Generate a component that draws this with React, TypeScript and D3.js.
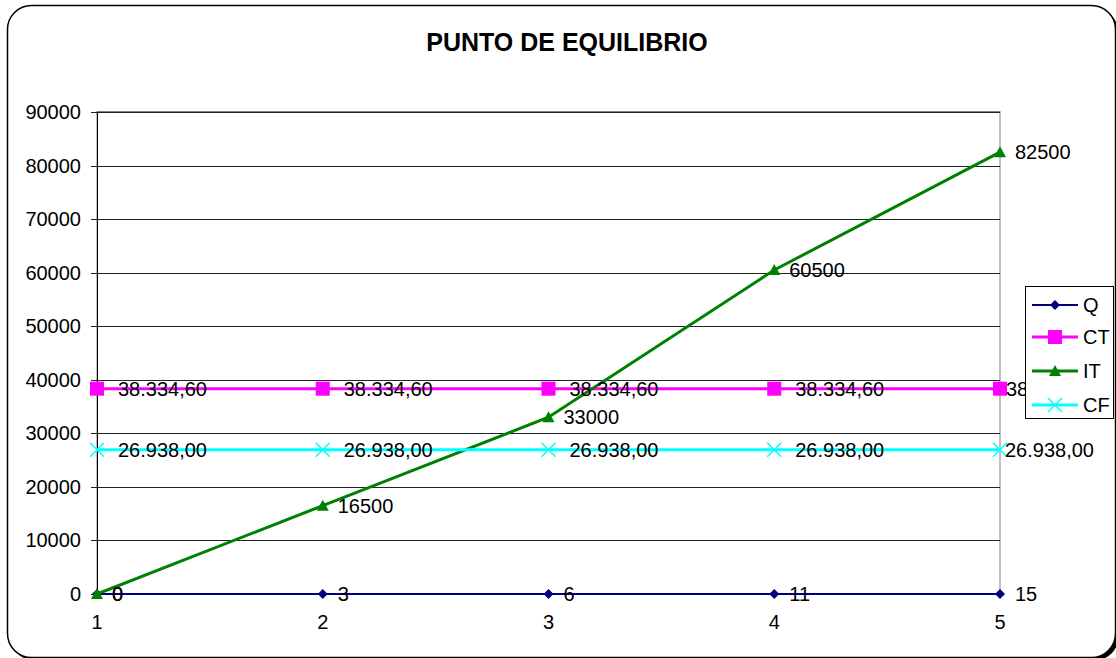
import React from "react";
import * as d3 from "d3";

const categories = ["1", "2", "3", "4", "5"];
const qValues = [0, 3, 6, 11, 15];
const ctValues = [38334.6, 38334.6, 38334.6, 38334.6, 38334.6];
const itValues = [0, 16500, 33000, 60500, 82500];
const cfValues = [26938, 26938, 26938, 26938, 26938];
const qLabels = ["0", "3", "6", "11", "15"];
const ctLabels = ["38.334,60", "38.334,60", "38.334,60", "38.334,60", "38.334,60"];
const itLabels = ["0", "16500", "33000", "60500", "82500"];
const cfLabels = ["26.938,00", "26.938,00", "26.938,00", "26.938,00", "26.938,00"];
const yTicks = [0, 10000, 20000, 30000, 40000, 50000, 60000, 70000, 80000, 90000];
const title = "PUNTO DE EQUILIBRIO";

type Series = {
  name: string;
  values: number[];
  labels: string[];
  color: string;
  width: number;
  marker: "diamond" | "square" | "triangle" | "x";
  offset: number;
  lastOffset: number;
};

const series: Series[] = [
  { name: "Q", values: qValues, labels: qLabels, color: "#000080", width: 2, marker: "diamond", offset: 15, lastOffset: 15 },
  { name: "CT", values: ctValues, labels: ctLabels, color: "#FF00FF", width: 3, marker: "square", offset: 21, lastOffset: 6 },
  { name: "IT", values: itValues, labels: itLabels, color: "#008000", width: 3, marker: "triangle", offset: 15, lastOffset: 15 },
  { name: "CF", values: cfValues, labels: cfLabels, color: "#00FFFF", width: 3, marker: "x", offset: 21, lastOffset: 5 },
];

const FONT = "Arial, 'Liberation Sans', sans-serif";
const FS = 20;

function Marker({ type, x, y, color }: { type: string; x: number; y: number; color: string }) {
  if (type === "diamond") {
    const s = 5;
    return <path d={`M${x},${y - s}L${x + s},${y}L${x},${y + s}L${x - s},${y}Z`} fill={color} />;
  }
  if (type === "square") {
    const s = 7;
    return <rect x={x - s} y={y - s} width={2 * s} height={2 * s} fill={color} />;
  }
  if (type === "triangle") {
    const s = 6;
    return <path d={`M${x},${y - s}L${x + s},${y + s - 1}L${x - s},${y + s - 1}Z`} fill={color} />;
  }
  const s = 7;
  return (
    <path d={`M${x - s},${y - s}L${x + s},${y + s}M${x - s},${y + s}L${x + s},${y - s}`} stroke={color} strokeWidth={1.5} fill="none" />
  );
}

export default function App() {
  const W = 1116;
  const H = 658;
  const left = 97;
  const right = 1000;
  const top = 112;
  const bottom = 594;

  const x = d3.scalePoint<string>().domain(categories).range([left, right]);
  const y = d3.scaleLinear().domain([0, 90000]).range([bottom, top]);

  const line = d3
    .line<number>()
    .x((_, i) => x(categories[i]) as number)
    .y((d) => y(d));

  return (
    <div style={{ position: "absolute", left: 0, top: 0 }}>
      <svg width={W} height={H} style={{ display: "block" }}>
        <defs>
          <clipPath id="legendClip">
            <rect x={0} y={0} width={1025} height={H} />
          </clipPath>
        </defs>
        <rect x={0} y={0} width={W} height={H} fill="#fff" />
        {/* chart area with shadow */}
        <rect x={10.5} y={8.5} width={1108} height={652} rx={24} fill="#000" />
        <rect x={7.5} y={5.5} width={1108} height={652} rx={24} fill="#fff" stroke="#000" strokeWidth={1.5} />

        <text x={567} y={51} textAnchor="middle" fontFamily={FONT} fontWeight="bold" fontSize={25} fill="#000">
          {title}
        </text>

        {/* plot area */}
        <rect x={left} y={top - 0.5} width={right - left} height={bottom - top + 0.5} fill="none" stroke="#808080" strokeWidth={1} />
        {yTicks.map((t) => (
          <g key={t}>
            <line x1={left - 6} x2={right} y1={Math.round(y(t)) + 0.5} y2={Math.round(y(t)) + 0.5} stroke="#222" strokeWidth={1} />
            <text x={81} y={y(t)} dy="0.35em" textAnchor="end" fontFamily={FONT} fontSize={FS} fill="#000">
              {t}
            </text>
          </g>
        ))}
        <line x1={left + 0.5} x2={left + 0.5} y1={top} y2={bottom + 5} stroke="#000" strokeWidth={1} />
        {categories.map((c) => (
          <text key={c} x={x(c)} y={622} dy="0.35em" textAnchor="middle" fontFamily={FONT} fontSize={FS} fill="#000">
            {c}
          </text>
        ))}

        {/* series */}
        {series.map((s) => (
          <g key={s.name}>
            <path d={line(s.values) || ""} fill="none" stroke={s.color} strokeWidth={s.width} />
            {s.values.map((v, i) => (
              <Marker key={i} type={s.marker} x={x(categories[i]) as number} y={y(v)} color={s.color} />
            ))}
          </g>
        ))}
        {series.map((s) => (
          <g key={s.name + "-lab"}>
            {s.values.map((v, i) => {
              const isLast = i === s.values.length - 1;
              const tx = (x(categories[i]) as number) + (isLast ? s.lastOffset : s.offset);
              const clipped = isLast && s.name === "CT";
              return (
                <text
                  key={i}
                  x={tx}
                  y={y(v)}
                  dy="0.35em"
                  fontFamily={FONT}
                  fontSize={FS}
                  fill="#000"
                  clipPath={clipped ? "url(#legendClip)" : undefined}
                >
                  {s.labels[i]}
                </text>
              );
            })}
          </g>
        ))}

        {/* legend */}
        <rect x={1025.5} y={286.5} width={88} height={132} fill="#fff" stroke="#000" strokeWidth={1} />
        {series.map((s, i) => {
          const ly = [305, 337, 371, 405][i];
          return (
            <g key={s.name + "-leg"}>
              <line x1={1032} x2={1078} y1={ly} y2={ly} stroke={s.color} strokeWidth={s.width} />
              <Marker type={s.marker} x={1055} y={ly} color={s.color} />
              <text x={1083} y={ly} dy="0.35em" fontFamily={FONT} fontSize={FS} fill="#000">
                {s.name}
              </text>
            </g>
          );
        })}
      </svg>
    </div>
  );
}
